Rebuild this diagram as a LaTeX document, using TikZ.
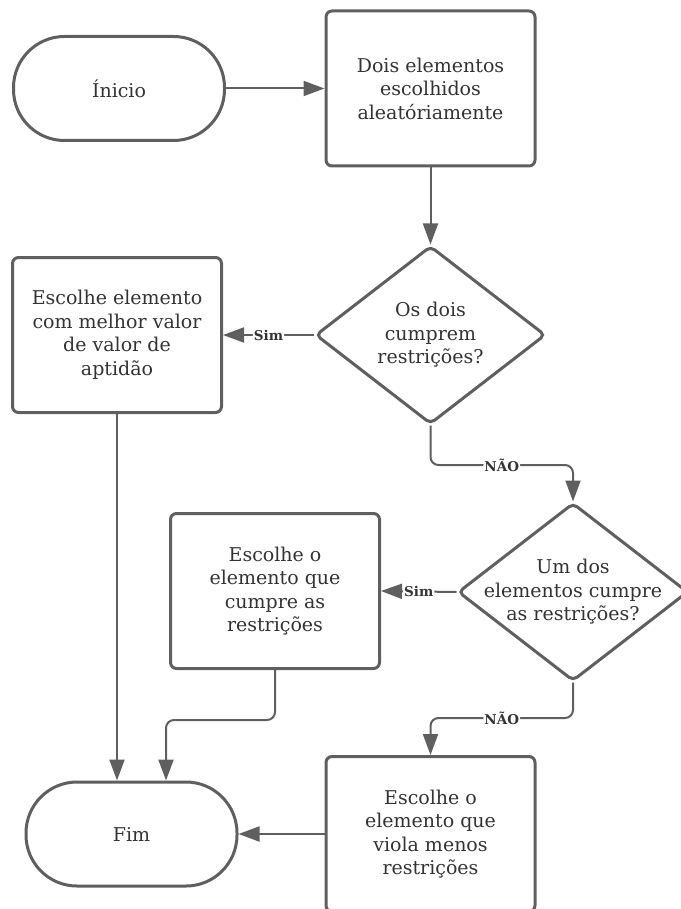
\documentclass[tikz,border=0pt]{standalone}
\usepackage{fontspec}
\setmainfont{DejaVu Serif}
\usetikzlibrary{shapes.geometric,arrows.meta}
\definecolor{ink}{HTML}{5F5F5F}
\definecolor{txt}{HTML}{333333}
\begin{document}
\begin{tikzpicture}[x=1pt,y=-1pt,
  font=\fontsize{19}{23.5}\selectfont,
  every node/.style={text=txt},
  outline/.style={draw=ink, line width=3pt, fill=white, align=center},
  terminal/.style={outline, rectangle, rounded corners=51pt,
    minimum width=211pt, minimum height=104pt, inner sep=0pt},
  process/.style={outline, rectangle, rounded corners=6pt,
    minimum width=209pt, minimum height=155pt, inner sep=0pt},
  % fixed-size diamond; its text sits on top as a centred label
  decision/.style={outline, diamond, rounded corners=5pt, aspect=1.28,
    minimum width=230pt, minimum height=178pt, inner sep=0pt,
    label={[align=center, text=txt]center:#1}},
  flow/.style={draw=ink, line width=2pt, rounded corners=8pt,
    -{Triangle[length=21pt,width=15pt]}},
  tag/.style={fill=white, inner sep=1pt, text=txt,
    font=\fontsize{13.5}{15}\selectfont\bfseries}]

\useasboundingbox (0,0) rectangle (680,909);

% nodes
\node[terminal] (start) at (119,88.5) {Ínicio};
\node[process]  (pick)  at (430.5,88.5) {Dois elementos\\escolhidos\\aleatóriamente};
\node[decision={Os dois\\cumprem\\restrições?}] (d1) at (430.5,335) {};
\node[process]  (best)  at (117,335) {Escolhe elemento\\com melhor valor\\de valor de\\aptidão};
\node[decision={Um dos\\elementos cumpre\\as restrições?}] (d2) at (573,592) {};
\node[process]  (valid) at (275,591) {Escolhe o\\elemento que\\cumpre as\\restrições};
\node[process]  (least) at (430.5,834) {Escolhe o\\elemento que\\viola menos\\restrições};
\node[terminal] (stop)  at (131.5,834) {Fim};

% bend points
\coordinate (j1) at (430.5,465);
\coordinate (j2) at (573,718);
\coordinate (j3) at (166,720);

% connectors
\draw[flow] (start.east) -- (pick.west);
\draw[flow] (pick.south) -- (d1.north);
\draw[flow] (d1.west) -- node[tag]{Sim} (best.east);
\draw[flow] (d1.south) -- (j1) -- node[tag]{NÃO} (j1 -| d2.north) -- (d2.north);
\draw[flow] (d2.west) -- node[tag]{Sim} (valid.east);
\draw[flow] (d2.south) -- (j2) -- node[tag]{NÃO} (j2 -| least.north) -- (least.north);
\draw[flow] (best.south) -- (best.south |- stop.north);
\draw[flow] (valid.south) -- (valid.south |- j3) -- (j3) -- (j3 |- stop.north);
\draw[flow] (least.west) -- (stop.east);

\end{tikzpicture}
\end{document}
